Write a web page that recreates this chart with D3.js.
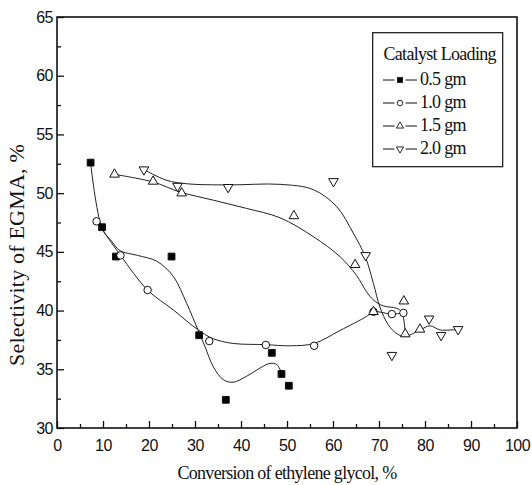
<!DOCTYPE html>
<html>
  <body style="margin:0;background:#fff">
    <style>
      .tick text { font-family: "Liberation Sans", Arial, sans-serif; font-size: 16px; letter-spacing: -0.5px; fill: #111; }
      .serif { font-family: "Liberation Serif", "Times New Roman", serif; fill: #111; }
    </style>
    <div id="chart"></div>
    <script src="https://cdn.jsdelivr.net/npm/d3@7/dist/d3.min.js"></script>
    <script type="text/javascript">
      // measured points, conversion (%) vs selectivity (%)
      const loadings = ['0.5 gm', '1.0 gm', '1.5 gm', '2.0 gm'];
      const conv05 = [7.3, 9.8, 12.8, 24.9, 30.9, 36.7, 46.7, 48.8, 50.4];
      const sel05 = [52.6, 47.1, 44.6, 44.6, 37.9, 32.4, 36.4, 34.6, 33.6];
      const conv10 = [8.6, 13.8, 19.7, 33.1, 45.4, 55.9, 68.8, 72.8, 75.3];
      const sel10 = [47.6, 44.7, 41.75, 37.4, 37.07, 37.0, 39.9, 39.7, 39.8];
      const conv15 = [12.5, 20.9, 27.1, 51.5, 64.8, 68.8, 75.4, 75.7, 78.9];
      const sel15 = [51.6, 51.0, 50.0, 48.06, 43.9, 39.9, 40.8, 38.0, 38.4];
      const conv20 = [18.9, 26.2, 37.2, 60.1, 67.1, 72.8, 80.9, 83.5, 87.2];
      const sel20 = [52.0, 50.6, 50.5, 51.0, 44.7, 36.2, 39.3, 37.9, 38.4];

      // smoothed trend lines
      const fitX05 = [7.3, 9.8, 11.9, 13.7, 17.5, 21.7, 25.3, 28.2, 30.7, 32.2, 34.0, 36.2, 38.3, 41.2, 44.1, 46.3, 47.8, 48.8];
      const fitY05 = [52.6, 47.0, 45.9, 45.1, 44.7, 44.2, 42.9, 40.6, 38.3, 36.9, 35.2, 34.1, 33.9, 34.4, 35.1, 35.5, 35.4, 34.7];
      const fitX10 = [8.6, 13.8, 19.7, 25.3, 30.7, 34.0, 38.3, 45.4, 50.7, 55.9, 61.5, 67.3, 68.8, 72.8, 75.3];
      const fitY10 = [47.6, 44.7, 41.75, 40.05, 38.35, 37.6, 37.2, 37.1, 37.0, 37.2, 38.3, 39.5, 39.9, 39.7, 39.8];
      const fitX15 = [12.5, 20.9, 26.7, 34.0, 41.2, 48.5, 55.7, 61.5, 65.1, 67.3, 68.8, 70.9, 73.8, 74.9, 75.6, 75.7];
      const fitY15 = [51.6, 50.95, 50.1, 49.4, 48.7, 47.9, 46.3, 44.6, 43.0, 41.6, 40.9, 40.4, 40.2, 39.9, 38.6, 38.0];
      const fitX20 = [18.9, 23.8, 28.2, 37.2, 48.5, 55.7, 60.8, 64.4, 67.0, 68.8, 70.2, 72.0, 73.8, 75.7, 78.9, 81.1, 83.3, 87.2];
      const fitY20 = [52.0, 51.1, 50.8, 50.7, 50.75, 50.3, 48.85, 46.6, 44.6, 42.3, 40.3, 38.8, 38.05, 37.8, 38.35, 38.7, 38.35, 38.4];

      const xTicks = [0, 10, 20, 30, 40, 50, 60, 70, 80, 90, 100];
      const yTicks = [30, 35, 40, 45, 50, 55, 60, 65];

      const width = 532;
      const height = 485;
      const plot = { left: 57, right: 517, top: 17, bottom: 428 };

      const svg = d3.select('#chart').append('svg').attr('width', width).attr('height', height);

      const x = d3.scaleLinear().domain([0, 100]).range([plot.left, plot.right]);
      const y = d3.scaleLinear().domain([30, 65]).range([plot.bottom, plot.top]);

      // axes, ticks point inward
      const xMinor = xTicks.slice(0, -1).map((d) => d + 5);
      const yMinor = yTicks.slice(0, -1).map((d) => d + 2.5);

      svg.append('g')
        .attr('transform', `translate(0,${plot.bottom})`)
        .call(d3.axisBottom(x).tickValues(xMinor).tickSizeInner(-4).tickSizeOuter(0).tickFormat(''))
        .call((g) => g.select('.domain').remove());
      svg.append('g')
        .attr('transform', `translate(0,${plot.bottom})`)
        .call(d3.axisBottom(x).tickValues(xTicks).tickSizeInner(-7).tickSizeOuter(0).tickPadding(12))
        .call((g) => g.select('.domain').remove());
      svg.append('g')
        .attr('transform', `translate(${plot.left},0)`)
        .call(d3.axisLeft(y).tickValues(yMinor).tickSizeInner(-4).tickSizeOuter(0).tickFormat(''))
        .call((g) => g.select('.domain').remove());
      svg.append('g')
        .attr('transform', `translate(${plot.left},0)`)
        .call(d3.axisLeft(y).tickValues(yTicks).tickSizeInner(-7).tickSizeOuter(0).tickPadding(4))
        .call((g) => g.select('.domain').remove());
      svg.selectAll('.tick line').attr('stroke', '#111').attr('stroke-width', 1.3);

      svg.append('rect')
        .attr('x', plot.left).attr('y', plot.top)
        .attr('width', plot.right - plot.left).attr('height', plot.bottom - plot.top)
        .attr('fill', 'none').attr('stroke', '#111').attr('stroke-width', 1.6);

      // fitted curves
      const line = d3.line().x((d) => x(d[0])).y((d) => y(d[1])).curve(d3.curveCatmullRom.alpha(0.5));
      const fits = [[fitX05, fitY05], [fitX10, fitY10], [fitX15, fitY15], [fitX20, fitY20]];
      fits.forEach(([fx, fy]) => {
        svg.append('path')
          .attr('d', line(fx.map((v, i) => [v, fy[i]])))
          .attr('fill', 'none').attr('stroke', '#222').attr('stroke-width', 1);
      });

      // symbols
      const shapes = [
        { sym: d3.symbolSquare, size: 46, fill: '#000', rot: 0 },
        { sym: d3.symbolCircle, size: 44, fill: '#fff', rot: 0 },
        { sym: d3.symbolTriangle, size: 40, fill: '#fff', rot: 0 },
        { sym: d3.symbolTriangle, size: 40, fill: '#fff', rot: 180 },
      ];
      const series = [[conv05, sel05], [conv10, sel10], [conv15, sel15], [conv20, sel20]];
      series.forEach(([cx, cy], s) => {
        const sh = shapes[s];
        svg.append('g').selectAll('path')
          .data(cx.map((v, i) => [v, cy[i]]))
          .enter()
          .append('path')
          .attr('d', d3.symbol().type(sh.sym).size(sh.size))
          .attr('transform', (d) => `translate(${x(d[0])},${y(d[1])}) rotate(${sh.rot})`)
          .attr('fill', sh.fill).attr('stroke', '#111').attr('stroke-width', 1);
      });

      // legend
      const lg = svg.append('g');
      lg.append('rect').attr('x', 372.7).attr('y', 32.7).attr('width', 130).attr('height', 134)
        .attr('fill', '#fff').attr('stroke', '#111').attr('stroke-width', 1.2);
      lg.append('text').attr('class', 'serif').attr('x', 383.5).attr('y', 60)
        .style('font-size', '18px').style('letter-spacing', '-0.7px').text('Catalyst Loading');
      loadings.forEach((name, i) => {
        const by = 85 + i * 23;
        const sh = shapes[i];
        lg.append('line').attr('x1', 383).attr('x2', 394.5).attr('y1', by - 5).attr('y2', by - 5)
          .attr('stroke', '#111').attr('stroke-width', 1);
        lg.append('line').attr('x1', 405.5).attr('x2', 417).attr('y1', by - 5).attr('y2', by - 5)
          .attr('stroke', '#111').attr('stroke-width', 1);
        lg.append('path')
          .attr('d', d3.symbol().type(sh.sym).size(sh.size * 0.55))
          .attr('transform', `translate(400,${by - 5}) rotate(${sh.rot})`)
          .attr('fill', sh.fill).attr('stroke', '#111').attr('stroke-width', 0.9);
        lg.append('text').attr('class', 'serif').attr('x', 420).attr('y', by)
          .style('font-size', '18px').style('letter-spacing', '-0.7px').text(name);
      });

      // axis titles
      svg.append('text').attr('class', 'serif')
        .attr('x', (plot.left + plot.right) / 2).attr('y', 479)
        .attr('text-anchor', 'middle')
        .style('font-size', '18px').style('letter-spacing', '-0.7px')
        .text('Conversion of ethylene glycol, %');
      svg.append('text').attr('class', 'serif')
        .attr('transform', 'translate(24,255) rotate(-90)')
        .attr('text-anchor', 'middle')
        .style('font-size', '22px').style('letter-spacing', '0.2px')
        .text('Selectivity of EGMA, %');
    </script>
  </body>
</html>
